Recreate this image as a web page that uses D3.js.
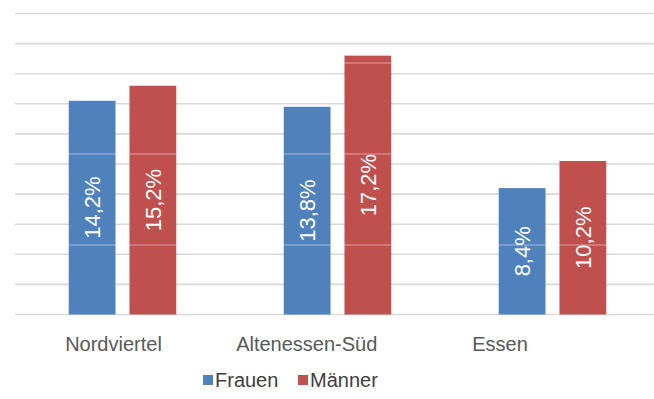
<!DOCTYPE html>
<html>
<head>
<meta charset="utf-8">
<script src="https://cdn.jsdelivr.net/npm/d3@7/dist/d3.min.js"></script>
<style>
  html, body { margin: 0; padding: 0; background: #fff; }
  svg { display: block; font-family: "Liberation Sans", Arial, sans-serif; }
</style>
</head>
<body>
<svg id="chart" width="654" height="399"></svg>
<script>
// Anteil nach Geschlecht und Stadtteil
const categories = ["Nordviertel", "Altenessen-Süd", "Essen"];
const seriesNames = ["Frauen", "Männer"];
const frauen = [14.2, 13.8, 8.4];
const maenner = [15.2, 17.2, 10.2];
const yTicks = [0, 2, 4, 6, 8, 10, 12, 14, 16, 18, 20];

const colors = { "Frauen": "#4F81BD", "Männer": "#C0504D" };
const values = { "Frauen": frauen, "Männer": maenner };

const svg = d3.select("#chart");

const y = d3.scaleLinear().domain([0, 20]).range([314.5, 13.5]);

const x0 = d3.scaleBand()
  .domain(categories)
  .range([15, 660])
  .paddingInner(0.5)
  .paddingOuter(0.25);

const x1 = d3.scaleBand()
  .domain(seriesNames)
  .range([0, x0.bandwidth()])
  .paddingInner(0.23)
  .paddingOuter(0);

// horizontal gridlines
svg.append("g")
  .selectAll("line")
  .data(yTicks)
  .join("line")
  .attr("x1", 15)
  .attr("x2", 654)
  .attr("y1", d => y(d))
  .attr("y2", d => y(d))
  .attr("stroke", "#d9d9d9")
  .attr("stroke-width", 1.6);

// bars
const rows = categories.map((c, i) => seriesNames.map(s => ({ cat: c, series: s, value: values[s][i] })));

const groups = svg.append("g")
  .selectAll("g")
  .data(rows)
  .join("g")
  .attr("transform", d => `translate(${x0(d[0].cat)},0)`);

groups.selectAll("rect")
  .data(d => d)
  .join("rect")
  .attr("x", d => x1(d.series))
  .attr("width", x1.bandwidth())
  .attr("y", d => y(d.value))
  .attr("height", d => y(0) - y(d.value))
  .attr("fill", d => colors[d.series]);

// faint light seams across the bars
svg.append("g")
  .selectAll("line")
  .data([63, 154, 245])
  .join("line")
  .attr("x1", 15)
  .attr("x2", 654)
  .attr("y1", d => d)
  .attr("y2", d => d)
  .attr("stroke", "#ffffff")
  .attr("stroke-opacity", 0.45)
  .attr("stroke-width", 1);

// value labels, rotated inside the bars
groups.selectAll("text")
  .data(d => d)
  .join("text")
  .attr("transform", d => {
    const cx = x1(d.series) + x1.bandwidth() / 2;
    const cy = (y(d.value) + y(0)) / 2;
    return `translate(${cx},${cy}) rotate(-90)`;
  })
  .attr("text-anchor", "middle")
  .attr("dy", "0.36em")
  .attr("fill", "#ffffff")
  .attr("font-size", 22)
  .text(d => d.value.toFixed(1).replace(".", ",") + "%");

// category labels
const xl = d3.scalePoint().domain(categories).range([113.5, 500]);
svg.append("g")
  .selectAll("text")
  .data(categories)
  .join("text")
  .attr("x", d => xl(d))
  .attr("y", 351)
  .attr("text-anchor", "middle")
  .attr("fill", "#595959")
  .attr("font-size", 20)
  .text(d => d);

// legend
const legend = svg.append("g").attr("transform", "translate(203,375)");
const legX = [0, 95];
const items = legend.selectAll("g")
  .data(seriesNames)
  .join("g")
  .attr("transform", (d, i) => `translate(${legX[i]},0)`);
items.append("rect")
  .attr("width", 10)
  .attr("height", 10)
  .attr("fill", d => colors[d]);
items.append("text")
  .attr("x", 12)
  .attr("y", 12)
  .attr("fill", "#404040")
  .attr("font-size", 20)
  .text(d => d);
</script>
</body>
</html>
